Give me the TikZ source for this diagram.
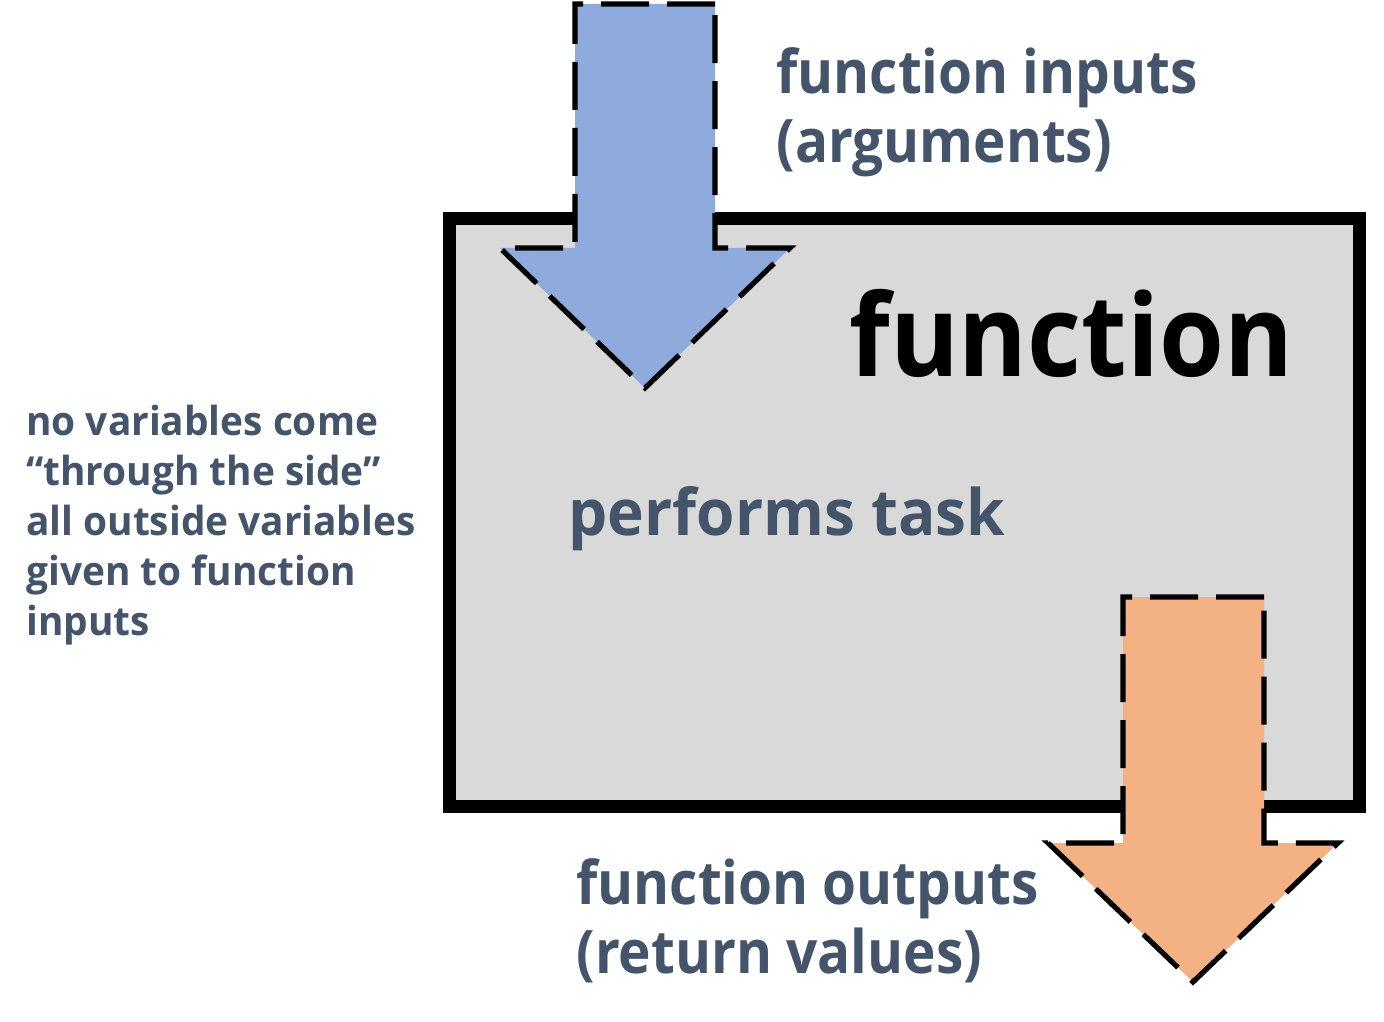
\documentclass[tikz,border=0pt]{standalone}
\usepackage{fontspec}
\setmainfont{Open Sans}
\newfontfamily\lblfont{Open Sans}[FakeStretch=0.915]
\newfontfamily\taskfont{Open Sans}[FakeStretch=0.97]
\newfontfamily\sidefont{Open Sans}[FakeStretch=0.97]
\newfontfamily\bigfont{Open Sans}[FakeStretch=0.92]
\definecolor{txt}{HTML}{44546A}
\definecolor{boxfill}{HTML}{D9D9D9}
\definecolor{inblue}{HTML}{8FAADC}
\definecolor{outorange}{HTML}{F4B183}
\tikzset{
  fbox/.style={draw=black, line width=6.5pt, fill=boxfill},
  arrowline/.style={draw=black, line width=2.6pt, dash pattern=on 24pt off 9pt, line join=miter},
  lbl/.style={inner sep=0pt, anchor=base west, text=txt, font=\lblfont\fontsize{30}{36}\selectfont\bfseries},
  tasklbl/.style={inner sep=0pt, anchor=base west, text=txt, font=\taskfont\fontsize{32}{38}\selectfont\bfseries},
  side/.style={inner sep=0pt, anchor=base west, text=txt, font=\sidefont\fontsize{20}{24}\selectfont\bfseries},
  big/.style={inner sep=0pt, anchor=base west, text=black, font=\bigfont\fontsize{57}{64}\selectfont\bfseries}
}
\begin{document}
\begin{tikzpicture}[x=0.5pt,y=-0.5pt]
\useasboundingbox (0,0) rectangle (1384,1021);
% function box
\draw[fbox] (449,219) rectangle (1359,806);
% input arrow
\coordinate (inA) at (575,4);
\coordinate (inB) at (715,4);
\coordinate (inC) at (715,248);
\coordinate (inD) at (790,248);
\coordinate (inTip) at (645,388);
\coordinate (inE) at (500,248);
\coordinate (inF) at (575,248);
\fill[inblue] (inA) -- (inB) -- (inC) -- (inD) -- (inTip) -- (inE) -- (inF) -- cycle;
\draw[arrowline] (inB) -- (inA) -- (inF) -- (inE) -- (inTip) -- (inD) -- (inC) -- cycle;
% output arrow
\coordinate (outA) at (1123,597);
\coordinate (outB) at (1264,597);
\coordinate (outC) at (1264,843);
\coordinate (outD) at (1338,843);
\coordinate (outTip) at (1193,982);
\coordinate (outE) at (1048,843);
\coordinate (outF) at (1123,843);
\fill[outorange] (outA) -- (outB) -- (outC) -- (outD) -- (outTip) -- (outE) -- (outF) -- cycle;
\draw[arrowline] (outB) -- (outA) -- (outF) -- (outE) -- (outTip) -- (outD) -- (outC) -- cycle;
% texts
\node[lbl] (in1) at (776,94) {function inputs};
\node[lbl] (in2) at (776,163) {(arguments)};
\node[big] (fn) at (849,376) {function};
\node[tasklbl] (task) at (568,535) {performs task};
\node[lbl] (out1) at (576,904) {function outputs};
\node[lbl] (out2) at (576,973) {(return values)};
\node[side] (s1) at (26,435) {no variables come};
\node[side] (s2) at (26,485) {“through the side”};
\node[side] (s3) at (26,535) {all outside variables};
\node[side] (s4) at (26,585) {given to function};
\node[side] (s5) at (26,635) {inputs};
\end{tikzpicture}
\end{document}
